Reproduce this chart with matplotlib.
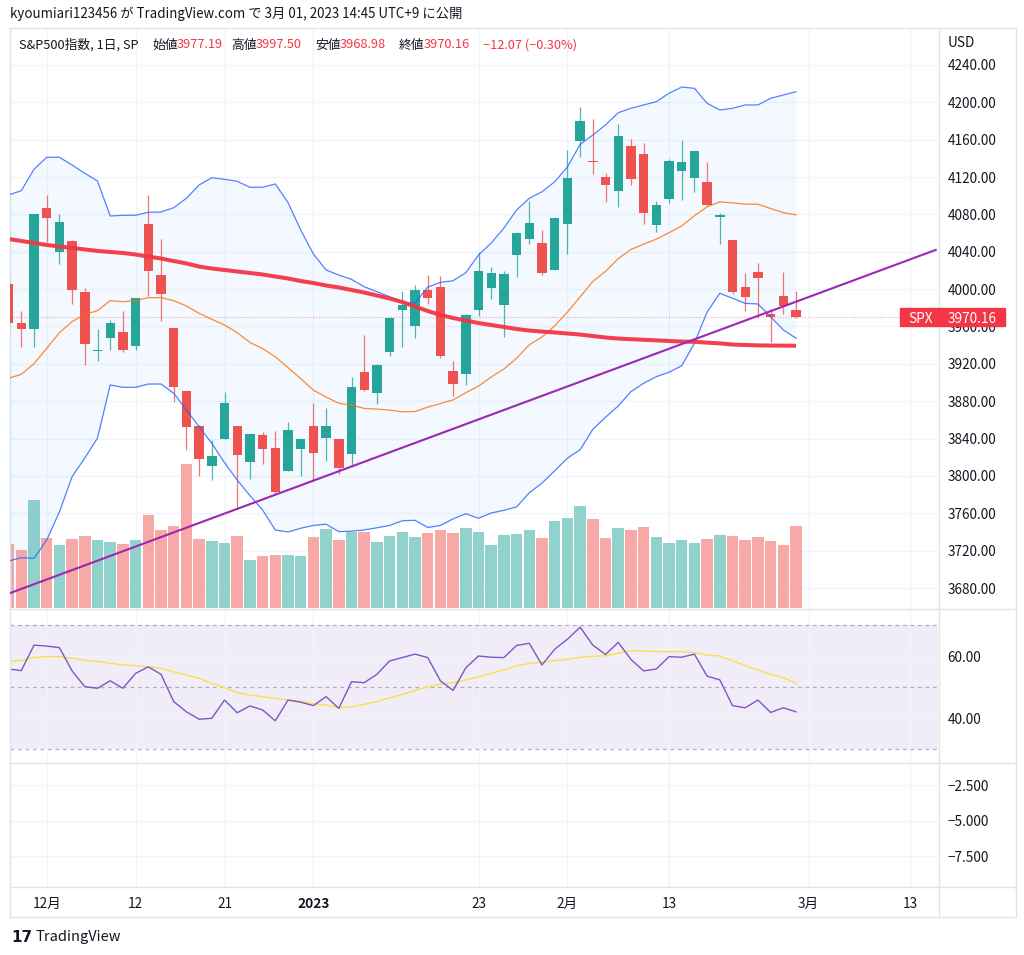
import matplotlib
matplotlib.use("Agg")
import matplotlib.pyplot as plt
from matplotlib.lines import Line2D
from matplotlib.patches import Rectangle
from matplotlib.transforms import blended_transform_factory

plt.rcParams['font.family'] = ['Noto Sans CJK JP', 'DejaVu Sans']

# ---------------- data ----------------
dates = ['2022-11-28', '2022-11-29', '2022-11-30', '2022-12-01', '2022-12-02', '2022-12-05', '2022-12-06',
         '2022-12-07', '2022-12-08', '2022-12-09', '2022-12-12', '2022-12-13', '2022-12-14', '2022-12-15',
         '2022-12-16', '2022-12-19', '2022-12-20', '2022-12-21', '2022-12-22', '2022-12-23', '2022-12-27',
         '2022-12-28', '2022-12-29', '2022-12-30', '2023-01-03', '2023-01-04', '2023-01-05', '2023-01-06',
         '2023-01-09', '2023-01-10', '2023-01-11', '2023-01-12', '2023-01-13', '2023-01-17', '2023-01-18',
         '2023-01-19', '2023-01-20', '2023-01-23', '2023-01-24', '2023-01-25', '2023-01-26', '2023-01-27',
         '2023-01-30', '2023-01-31', '2023-02-01', '2023-02-02', '2023-02-03', '2023-02-06', '2023-02-07',
         '2023-02-08', '2023-02-09', '2023-02-10', '2023-02-13', '2023-02-14', '2023-02-15', '2023-02-16',
         '2023-02-17', '2023-02-21', '2023-02-22', '2023-02-23', '2023-02-24', '2023-02-27', '2023-02-28']
future_dates = ['2023-03-01', '2023-03-02', '2023-03-03', '2023-03-06', '2023-03-07', '2023-03-08',
                '2023-03-09', '2023-03-10', '2023-03-13']

opens = [4005.36, 3964.19, 3957.18, 4087.14, 4040.17, 4052.02, 3996.63, 3933.28, 3947.79, 3954.17, 3939.29,
         4069.38, 4015.54, 3958.37, 3890.91, 3853.79, 3810.47, 3839.49, 3853.26, 3815.11, 3843.34, 3829.56,
         3805.45, 3829.06, 3853.29, 3840.36, 3839.74, 3823.37, 3910.82, 3888.57, 3932.35, 3977.57, 3960.60,
         3999.28, 4002.25, 3911.84, 3909.04, 3978.14, 4001.74, 3982.71, 4036.08, 4053.72, 4049.27, 4020.85,
         4070.07, 4158.68, 4136.69, 4119.57, 4105.35, 4153.47, 4144.25, 4068.92, 4096.62, 4126.70, 4119.50,
         4114.75, 4077.39, 4052.35, 4001.83, 4018.60, 3973.24, 3992.36, 3977.19]
highs = [4012.27, 3976.77, 4080.11, 4100.51, 4080.48, 4052.45, 4001.51, 3957.57, 3966.92, 3977.02, 3990.71,
         4100.96, 4053.76, 3958.37, 3890.91, 3854.86, 3838.24, 3889.82, 3853.26, 3845.80, 3846.65, 3848.32,
         3858.19, 3839.85, 3878.46, 3873.16, 3839.74, 3906.19, 3950.57, 3919.83, 3970.07, 3997.76, 4003.95,
         4015.39, 4014.16, 3922.94, 3972.96, 4039.31, 4023.92, 4019.55, 4061.57, 4094.21, 4063.85, 4077.16,
         4148.95, 4195.44, 4182.36, 4124.63, 4176.54, 4160.77, 4156.23, 4094.36, 4138.90, 4159.77, 4148.11,
         4136.54, 4081.51, 4052.35, 4017.37, 4028.30, 3978.25, 4018.05, 3997.50]
lows = [3955.77, 3937.65, 3938.58, 4050.87, 4026.63, 3984.49, 3918.39, 3922.68, 3935.09, 3933.04, 3935.30,
        3993.03, 3965.65, 3879.45, 3827.91, 3800.04, 3795.62, 3839.49, 3764.49, 3797.01, 3813.22, 3780.78,
        3805.45, 3800.34, 3794.33, 3815.77, 3802.42, 3809.56, 3890.42, 3877.29, 3928.54, 3937.56, 3947.67,
        3984.57, 3926.59, 3885.54, 3897.86, 3971.64, 3989.79, 3949.06, 4013.29, 4048.70, 4015.55, 4020.44,
        4037.20, 4141.88, 4123.36, 4093.38, 4088.39, 4111.21, 4069.67, 4060.79, 4092.67, 4095.01, 4103.98,
        4089.35, 4047.95, 3995.19, 3976.90, 3969.19, 3943.08, 3973.55, 3968.98]
closes = [3963.94, 3957.63, 4080.11, 4076.57, 4071.70, 3998.84, 3941.26, 3933.92, 3963.51, 3934.38, 3990.56,
          4019.65, 3995.32, 3895.75, 3852.36, 3817.66, 3821.62, 3878.44, 3822.39, 3844.82, 3829.25, 3783.22,
          3849.28, 3839.50, 3824.14, 3852.97, 3808.10, 3895.08, 3892.09, 3919.25, 3969.61, 3983.17, 3999.09,
          3990.97, 3928.86, 3898.85, 3972.61, 4019.81, 4016.95, 4016.22, 4060.43, 4070.56, 4017.77, 4076.60,
          4119.21, 4179.76, 4136.48, 4111.08, 4164.00, 4117.86, 4081.50, 4090.46, 4137.29, 4136.13, 4147.60,
          4090.41, 4079.09, 3997.34, 3991.05, 4012.32, 3970.04, 3982.24, 3970.16]
volumes = [2.57, 2.33, 4.33, 2.79, 2.53, 2.77, 2.90, 2.71, 2.63, 2.55, 2.74, 3.73, 3.14, 3.27, 5.78, 2.77,
           2.69, 2.61, 2.87, 1.94, 2.10, 2.13, 2.13, 2.07, 2.85, 3.17, 2.74, 3.03, 3.03, 2.63, 2.87, 3.03,
           2.85, 3.01, 3.11, 3.01, 3.19, 3.03, 2.53, 2.93, 2.95, 3.14, 2.82, 3.49, 3.59, 4.10, 3.57, 2.79,
           3.19, 3.11, 3.25, 2.85, 2.61, 2.71, 2.61, 2.77, 2.93, 2.87, 2.74, 2.85, 2.69, 2.53, 3.30]

bb_upper = [4100.8, 4105.4, 4128.3, 4141.2, 4141.2, 4132.9, 4124.0, 4115.8, 4078.3, 4079.1, 4079.1, 4082.3,
            4082.6, 4087.2, 4097.3, 4111.5, 4119.3, 4117.6, 4115.5, 4109.1, 4109.1, 4112.6, 4092.7, 4063.3,
            4037.6, 4020.5, 4015.1, 4010.5, 4002.6, 3997.3, 3991.9, 3985.5, 3985.0, 4002.3, 4007.3, 4009.0,
            4017.6, 4036.6, 4049.4, 4065.5, 4084.7, 4097.3, 4104.3, 4115.0, 4130.8, 4155.0, 4165.0, 4175.8,
            4188.9, 4193.6, 4197.2, 4200.7, 4209.7, 4216.4, 4215.0, 4199.0, 4191.8, 4193.6, 4197.2, 4197.2,
            4204.3, 4207.9, 4211.4]
bb_basis = [3904.5, 3908.8, 3920.2, 3936.6, 3953.4, 3965.2, 3973.0, 3977.0, 3987.7, 3986.6, 3987.7, 3990.9,
            3990.9, 3987.7, 3982.0, 3974.1, 3967.7, 3961.6, 3953.4, 3943.0, 3936.3, 3927.6, 3916.0, 3904.2,
            3891.8, 3884.5, 3877.8, 3875.9, 3872.3, 3871.6, 3870.5, 3868.7, 3868.9, 3873.7, 3877.5, 3881.5,
            3889.1, 3896.2, 3905.9, 3914.5, 3926.0, 3940.4, 3948.8, 3960.7, 3975.4, 3991.8, 4008.2, 4019.0,
            4032.6, 4042.5, 4048.1, 4053.5, 4060.4, 4067.6, 4078.6, 4088.1, 4093.5, 4092.3, 4091.0, 4090.9,
            4086.3, 4081.9, 4079.5]
bb_lower = [3708.9, 3712.5, 3711.8, 3731.4, 3761.4, 3799.2, 3819.2, 3840.6, 3897.4, 3894.9, 3894.9, 3898.4,
            3898.4, 3888.5, 3870.6, 3852.7, 3834.9, 3814.2, 3795.6, 3779.0, 3763.5, 3742.1, 3740.0, 3744.0,
            3747.0, 3748.3, 3740.4, 3740.8, 3742.2, 3744.5, 3747.0, 3752.0, 3752.5, 3744.8, 3747.0, 3754.0,
            3759.5, 3754.7, 3760.3, 3763.2, 3766.8, 3782.0, 3792.3, 3805.5, 3819.0, 3828.0, 3849.9, 3862.8,
            3874.9, 3890.2, 3899.2, 3906.3, 3911.0, 3918.0, 3942.0, 3975.5, 3995.5, 3990.2, 3984.8, 3984.1,
            3970.5, 3956.3, 3947.4]
ma_long = [4053.7, 4051.6, 4049.4, 4047.3, 4045.7, 4044.1, 4042.5, 4040.9, 4039.8, 4038.7, 4037.1, 4034.9,
           4032.8, 4030.1, 4027.5, 4024.2, 4022.1, 4020.5, 4018.9, 4017.3, 4015.7, 4013.5, 4011.4, 4008.7,
           4006.6, 4003.9, 4001.8, 3999.1, 3996.4, 3993.2, 3990.0, 3986.2, 3981.4, 3976.6, 3972.3, 3969.1,
           3966.4, 3963.7, 3961.6, 3959.5, 3957.3, 3955.7, 3954.6, 3953.6, 3952.5, 3951.4, 3949.8, 3948.2,
           3947.1, 3946.4, 3945.8, 3945.2, 3944.5, 3943.9, 3943.6, 3942.7, 3941.9, 3940.7, 3940.2, 3939.8,
           3939.6, 3939.5, 3939.4]
rsi = [55.8, 55.3, 63.5, 63.2, 62.7, 55.2, 50.1, 49.6, 52.0, 49.6, 54.4, 56.5, 54.1, 45.3, 42.0, 39.6, 39.9,
       45.8, 41.7, 43.9, 42.6, 39.1, 45.8, 45.1, 44.0, 46.9, 43.1, 51.7, 51.4, 54.1, 58.4, 59.5, 60.6, 59.5,
       52.0, 48.9, 56.2, 60.0, 59.6, 59.5, 63.4, 64.1, 57.1, 62.2, 65.4, 69.3, 63.5, 60.5, 64.4, 58.9, 55.2,
       55.8, 59.8, 59.6, 60.6, 53.5, 52.3, 44.0, 43.3, 45.8, 41.8, 43.3, 42.0]
rsi_ma = [58.4, 58.5, 59.6, 59.8, 59.8, 59.3, 58.6, 58.2, 57.7, 57.1, 56.9, 56.5, 56.0, 54.9, 53.9, 52.8, 51.2,
          49.8, 48.2, 47.4, 46.9, 46.4, 45.8, 45.4, 44.6, 44.2, 43.3, 43.6, 44.4, 45.3, 46.5, 47.6, 48.9, 50.1,
          50.9, 51.4, 52.3, 53.3, 54.4, 55.5, 56.9, 57.6, 58.0, 58.5, 58.9, 59.6, 59.9, 60.1, 60.9, 61.7, 61.7,
          61.4, 61.4, 61.4, 61.1, 60.3, 60.0, 58.5, 56.9, 55.5, 54.1, 53.0, 51.2]

trend_x = [0, 73]
trend_p = [3674.0, 4042.0]

tick_dates = ['2022-12-01', '2022-12-12', '2022-12-21', '2023-01-03', '2023-01-23', '2023-02-01',
              '2023-02-13', '2023-03-01', '2023-03-13']
tick_labels = ['12月', '12', '21', '2023', '23', '2月', '13', '3月', '13']
price_ticks = [3680, 3720, 3760, 3800, 3840, 3880, 3920, 3960, 4000, 4040, 4080, 4120, 4160, 4200, 4240]
rsi_ticks = [40, 60]
rsi_levels = [70, 50, 30]
osc_ticks = [-2.5, -5.0, -7.5]
osc_labels = ['\u22122.500', '\u22125.000', '\u22127.500']

# ---------------- layout ----------------
W, H = 1024, 955
fig = plt.figure(figsize=(W / 100, H / 100), dpi=100, facecolor='white')

def rect(x0, y0, x1, y1):
    return [x0 / W, 1 - y1 / H, (x1 - x0) / W, (y1 - y0) / H]

def T(x, y, s, **kw):
    return fig.text(x / W, 1 - y / H, s, **kw)

TXT = '#131722'
GRID = '#f0f3fa'
BORDER = '#e0e3eb'
UP = '#26a69a'
DN = '#ef5350'
XL = (0.11, 73.18)

n = len(dates)
xs = list(range(n))
all_dates = dates + future_dates
tick_x = [all_dates.index(d) for d in tick_dates]
colors = [UP if c >= o else DN for o, c in zip(opens, closes)]
vcolors = ['#92d2cc' if c >= o else '#f7a9a7' for o, c in zip(opens, closes)]

# volume axes (underneath)
axv = fig.add_axes(rect(10, 28, 938, 608), zorder=1)
axv.set_xlim(XL)
axv.set_ylim(0, 23.2)
axv.set_axis_off()

# main price axes
ax = fig.add_axes(rect(10, 28, 938, 608), zorder=2)
ax.patch.set_visible(False)
ax.set_xlim(XL)
ax.set_ylim(3658.6, 4279.6)
for s in ax.spines.values():
    s.set_visible(False)

# grid drawn under volume bars, positioned with the price scale
blend_v = blended_transform_factory(axv.transAxes, ax.transData)
for p in price_ticks:
    axv.add_line(Line2D([0, 1], [p, p], transform=blend_v, color=GRID, lw=1.0, zorder=0))
for tx in tick_x:
    axv.axvline(tx, color=GRID, lw=1.0, zorder=0)
axv.bar(xs, volumes, width=0.9, color=vcolors, linewidth=0, zorder=1)

ax.yaxis.tick_right()
ax.set_yticks(price_ticks)
ax.set_yticklabels([f'{p:.2f}' for p in price_ticks])
ax.tick_params(axis='y', length=0, pad=7, labelsize=9.8, labelcolor=TXT)
ax.set_xticks(tick_x)
ax.tick_params(axis='x', length=0, labelbottom=False)

# Bollinger fill
ax.fill_between(xs, bb_lower, bb_upper, color='#2196F3', alpha=0.05, lw=0, zorder=1)
# candles
ax.vlines(xs, lows, highs, colors=colors, lw=0.9, alpha=0.8, zorder=3)
bottoms = [min(o, c) for o, c in zip(opens, closes)]
heights = [max(abs(c - o), 1.1) for o, c in zip(opens, closes)]
ax.bar(xs, heights, bottom=bottoms, width=0.74, color=colors, linewidth=0, zorder=3)
# indicators
ax.plot(xs, bb_upper, color='#2962FF', lw=0.9, alpha=0.8, zorder=4)
ax.plot(xs, bb_lower, color='#2962FF', lw=0.9, alpha=0.8, zorder=4)
ax.plot(xs, bb_basis, color='#FF6D00', lw=0.9, alpha=0.8, zorder=4)
ax.plot(xs, ma_long, color='#F23645', lw=2.9, alpha=0.95, zorder=5, solid_capstyle='butt')
ax.plot(trend_x, trend_p, color='#9C27B0', lw=1.5, zorder=6)
last = closes[-1]
ax.axhline(last, xmin=0, xmax=(900 - 10) / 928, color='#F23645', lw=0.8, alpha=0.45,
           ls=(0, (1, 1.5)), zorder=2)

# SPX price tag (covers the nearby axis label, as in the original)
blend_p = blended_transform_factory(fig.transFigure, ax.transData)
tag = Rectangle((900 / W, last - 9.6), 105 / W, 19.3, transform=blend_p, color='#F23645',
                clip_on=False, zorder=20)
ax.add_patch(tag)
ax.text(908 / W, last, 'SPX', transform=blend_p, color='white', fontsize=9.8, va='center_baseline',
        ha='left', clip_on=False, zorder=21)
ax.text(948 / W, last, f'{last:.2f}', transform=blend_p, color='white', fontsize=9.8,
        va='center_baseline', ha='left', clip_on=False, zorder=21)

# RSI pane
axr = fig.add_axes(rect(10, 609, 938, 762))
axr.set_xlim(XL)
axr.set_ylim(25.81, 75.16)
for s in axr.spines.values():
    s.set_visible(False)
axr.axhspan(30, 70, color='#7E57C2', alpha=0.1, lw=0, zorder=0)
axr.set_yticks(rsi_ticks)
axr.set_yticklabels([f'{v:.2f}' for v in rsi_ticks])
axr.yaxis.tick_right()
axr.tick_params(axis='y', length=0, pad=7, labelsize=9.8, labelcolor=TXT)
axr.set_xticks(tick_x)
axr.tick_params(axis='x', length=0, labelbottom=False)
axr.grid(True, color=GRID, lw=1.0, zorder=0)
axr.set_axisbelow(True)
for lv in rsi_levels:
    axr.axhline(lv, color='#787B86', alpha=0.55, lw=0.9, ls=(0, (3, 3)), zorder=1)
axr.plot(xs, rsi_ma, color='#F9E04B', lw=1.0, zorder=3)
axr.plot(xs, rsi, color='#7E57C2', lw=1.0, zorder=4)

# empty oscillator pane + time axis
axo = fig.add_axes(rect(10, 763, 938, 887))
axo.set_xlim(XL)
axo.set_ylim(-9.68, -0.95)
for s in axo.spines.values():
    s.set_visible(False)
axo.set_yticks(osc_ticks)
axo.set_yticklabels(osc_labels)
axo.yaxis.tick_right()
axo.tick_params(axis='y', length=0, pad=7, labelsize=9.8, labelcolor=TXT)
axo.set_xticks(tick_x)
axo.set_xticklabels(tick_labels)
axo.tick_params(axis='x', length=0, pad=7, labelsize=9.8, labelcolor=TXT)
for lbl in axo.get_xticklabels():
    if lbl.get_text() == '2023':
        lbl.set_fontweight('bold')
axo.grid(True, color=GRID, lw=1.0)
axo.set_axisbelow(True)

# borders / separators
def hline(y, x0, x1, c=BORDER, lw=1.0):
    fig.add_artist(Line2D([x0 / W, x1 / W], [1 - y / H, 1 - y / H], color=c, lw=lw,
                          transform=fig.transFigure))

def vline(x, y0, y1, c=BORDER, lw=1.0):
    fig.add_artist(Line2D([x / W, x / W], [1 - y0 / H, 1 - y1 / H], color=c, lw=lw,
                          transform=fig.transFigure))

hline(28.5, 10, 1016)
hline(608.5, 10, 1016)
hline(762.5, 10, 1016)
hline(887, 10, 1016)
hline(917, 10, 1016)
vline(10, 28.5, 917)
vline(1016, 28.5, 917)
vline(938.5, 28.5, 917)

# header texts
T(10, 14, 'kyoumiari123456 が TradingView.com で 3月 01, 2023 14:45 UTC+9 に公開',
  fontsize=9.6, color=TXT, va='center', ha='left')
RED = '#F23645'
legend_parts = [(19, 'S&P500指数, 1日, SP', TXT), (152, '始値', TXT), (177, '3977.19', RED),
                (231, '高値', TXT), (256, '3997.50', RED), (315, '安値', TXT), (340, '3968.98', RED),
                (399, '終値', TXT), (424, '3970.16', RED), (483, '\u221212.07 (\u22120.30%)', RED)]
for px, s, c in legend_parts:
    T(px, 45, s, fontsize=9.2, color=c, va='center', ha='left')
T(948, 43, 'USD', fontsize=9.8, color=TXT, va='center', ha='left')

# footer logo
T(11, 937, '17', fontsize=11, color=TXT, va='center', ha='left', fontweight='bold',
  family='DejaVu Sans')
T(35, 937, 'TradingView', fontsize=10.5, color=TXT, va='center', ha='left')

fig.savefig('out.png', dpi=100, facecolor='white')
